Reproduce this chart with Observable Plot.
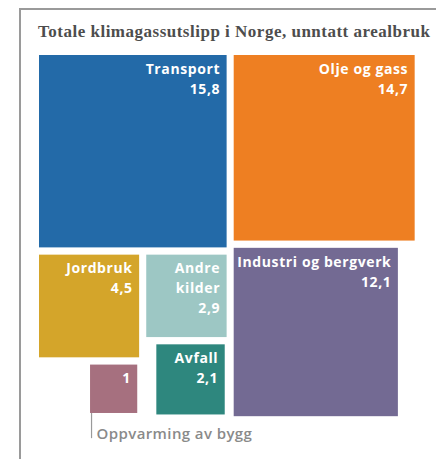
<!DOCTYPE html>
<html>
<head>
<meta charset="utf-8">
<script src="https://cdn.jsdelivr.net/npm/d3@7"></script>
<script src="https://cdn.jsdelivr.net/npm/@observablehq/plot@0.6"></script>
<style>
  html, body { margin: 0; padding: 0; background: #fff; }
  #wrap { position: relative; width: 436px; height: 459px; overflow: hidden; }
  #frame { position: absolute; left: 19px; top: 8px; width: 500px; height: 500px;
           border-left: 2px solid #9a9a9a; border-top: 2px solid #9a9a9a; }
  #title { position: absolute; left: 38px; top: 22px; font-family: "Liberation Serif", serif;
           font-weight: bold; font-size: 17px; letter-spacing: 0.5px; color: #4d4d4d; white-space: nowrap; }
  #chart { position: absolute; left: 0; top: 0; }
  #chart .box, #chart .box text { letter-spacing: 0.6px; }
  #chart .lead, #chart .lead text { letter-spacing: 0.4px; }
</style>
</head>
<body>
<div id="wrap">
  <div id="frame"></div>
  <div id="chart"></div>
  <div id="title">Totale klimagassutslipp i Norge, unntatt arealbruk</div>
</div>
<script>
// Data
const categories = ["Transport", "Olje og gass", "Industri og bergverk", "Jordbruk", "Andre kilder", "Avfall", "Oppvarming av bygg"];
const values = [15.8, 14.7, 12.1, 4.5, 2.9, 2.1, 1];
const boxNames = ["Transport", "Olje og gass", "Industri og bergverk", "Jordbruk", "Andre\nkilder", "Avfall", ""];
const colors = ["#236aa8", "#ee7f22", "#736a93", "#d4a52a", "#9dc7c4", "#2e877e", "#a6707f"];

const fmt = v => String(v).replace(".", ",");
const side = values.map(Math.sqrt);   // square side proportional to sqrt(value) -> area ~ value
const [sT, sO, sI, sJ, sA, sAv, sOp] = side;
const g = 0.15;  // gap between squares, in side units
const e = 0.04;  // small inset of the lower squares

// Layout rules (top-left corners, in side units)
const corners = [
  [0, 0],                               // Transport
  [sT + g, 0],                          // Olje og gass: right of Transport
  [sT + g, sO + g],                     // Industri: below Olje
  [0, sT + g],                          // Jordbruk: below Transport
  [sT - sA, sT + g],                    // Andre kilder: right-aligned under Transport
  [sT - sAv - e, sT + g + sA + g],      // Avfall: under Andre kilder
  [sJ - sOp - e, sT + g + sJ + g]       // Oppvarming: under Jordbruk
];

const boxes = categories.map((c, i) => ({
  name: c,
  value: values[i],
  x1: corners[i][0], y1: corners[i][1],
  x2: corners[i][0] + side[i], y2: corners[i][1] + side[i],
  label: (boxNames[i] ? boxNames[i] + "\n" : "") + fmt(values[i]),
  color: colors[i]
}));

const opp = boxes[6];
const leader = [{x: opp.x1, y1: opp.y2, y2: opp.y2 + 0.52, text: opp.name}];

const W = 436, H = 459;
const kx = 47.2, ky = 48.4, ox = 39, oy = 55;

const chart = Plot.plot({
  width: W, height: H,
  margin: 0,
  x: {type: "linear", domain: [-ox / kx, (W - ox) / kx], range: [0, W], axis: null},
  y: {type: "linear", domain: [-oy / ky, (H - oy) / ky], range: [0, H], axis: null},
  style: {background: "transparent", overflow: "visible"},
  marks: [
    Plot.rect(boxes, {x1: "x1", x2: "x2", y1: "y1", y2: "y2", fill: "color", inset: 0}),
    Plot.text(boxes, {
      x: "x2", y: "y1", text: "label",
      textAnchor: "end", lineAnchor: "top",
      dx: -7, dy: 4, fill: "white",
      fontSize: 14, fontWeight: 700, lineHeight: 20 / 14,
      fontFamily: "Open Sans", className: "box"
    }),
    Plot.ruleX(leader, {x: "x", y1: "y1", y2: "y2", stroke: "#9a9a9a", strokeWidth: 1.2, dx: 1}),
    Plot.text(leader, {
      x: "x", y: "y2", text: "text",
      textAnchor: "start", lineAnchor: "bottom",
      dx: 6, dy: 0, fill: "#8a8a8a",
      fontSize: 15, fontWeight: 600, fontFamily: "Open Sans", className: "lead"
    })
  ]
});
document.getElementById("chart").appendChild(chart);
</script>
</body>
</html>
